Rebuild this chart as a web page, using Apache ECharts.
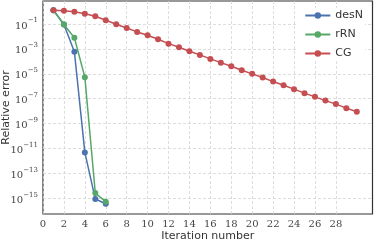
<!DOCTYPE html>
<html>
<head>
<meta charset="utf-8">
<script src="https://cdn.jsdelivr.net/npm/echarts@6/dist/echarts.min.js"></script>
<style>html,body{margin:0;padding:0;background:#fff}#c{width:374px;height:241px}</style>
</head>
<body>
<div id="c"></div>
<script>
// Data (relative error, log scale)
const desN_x = [1, 2, 3, 4, 5, 6];
const desN_y = [1.26, 9.1e-2, 6.0e-4, 4.9e-12, 8.9e-16, 3.7e-16];
const rRN_x = [1, 2, 3, 4, 5, 6];
const rRN_y = [1.26, 9.1e-2, 7.9e-3, 5.4e-6, 2.7e-15, 5.5e-16];
const CG_x = [1,2,3,4,5,6,7,8,9,10,11,12,13,14,15,16,17,18,19,20,21,22,23,24,25,26,27,28,29,30];
const CG_y = [1.26, 1.16, 0.97, 0.67, 0.42, 0.20, 9.5e-2, 4.8e-2, 2.3e-2, 1.24e-2,
  5.9e-3, 2.64e-3, 1.36e-3, 6.5e-4, 3.3e-4, 1.57e-4, 7.9e-5, 4.1e-5, 1.95e-5, 9.9e-6,
  5.0e-6, 2.38e-6, 1.22e-6, 5.9e-7, 2.8e-7, 1.42e-7, 7.1e-8, 3.7e-8, 1.76e-8, 8.9e-9];
const xTicks = [0,2,4,6,8,10,12,14,16,18,20,22,24,26,28];
const yTicks = [1e-15, 1e-13, 1e-11, 1e-9, 1e-7, 1e-5, 1e-3, 1e-1];

const pair = (xs, ys) => xs.map((x, i) => [x, ys[i]]);
const chart = echarts.init(document.getElementById('c'), null, {renderer: 'canvas'});
const grid = {color: '#d4d4d4', width: 0.8, type: [3, 2]};
const sup = v => {
  const e = Math.round(Math.log10(v));
  return '{b|10}{s|' + (e < 0 ? '\u2212' + (-e) : e) + '}';
};
const mk = (name, data, color) => ({
  name, type: 'line', data, symbol: 'circle', symbolSize: 6,
  lineStyle: {color, width: 1.5}, itemStyle: {color},
  animation: false
});
chart.setOption({
  animation: false,
  grid: {left: 43, right: 1.5, top: 1, bottom: 27, containLabel: false, outerBoundsMode: 'none',
         show: true, borderColor: '#333', borderWidth: 1.2, backgroundColor: 'transparent'},
  legend: {
    orient: 'vertical', right: 9, top: 8, padding: [2, 2, 2, 6],
    itemWidth: 25, itemHeight: 8, itemGap: 8, align: 'left',
    backgroundColor: '#fff',
    textStyle: {fontFamily: 'DejaVu Sans', fontSize: 11, color: '#333'},
    data: ['desN', 'rRN', 'CG']
  },
  xAxis: {
    type: 'value', min: 0, max: 31.5,
    name: 'Iteration number', nameLocation: 'middle', nameGap: 17, nameMoveOverlap: false,
    nameTextStyle: {fontFamily: 'DejaVu Sans', fontSize: 11, color: '#333'},
    axisLine: {show: false},
    axisTick: {show: false, customValues: xTicks},
    axisLabel: {customValues: xTicks, fontFamily: 'DejaVu Serif', fontSize: 10, color: '#444', margin: 5},
    splitLine: {show: true, lineStyle: grid}
  },
  yAxis: {
    type: 'log', min: Math.pow(10, -16.25), max: Math.pow(10, 0.843),
    name: 'Relative error', nameLocation: 'middle', nameGap: 31, nameRotate: 90, nameMoveOverlap: false,
    nameTextStyle: {fontFamily: 'DejaVu Sans', fontSize: 11, color: '#333'},
    axisLine: {show: false},
    axisTick: {show: false, customValues: yTicks},
    axisLabel: {
      customValues: yTicks, margin: 5, formatter: sup,
      rich: {
        b: {fontFamily: 'DejaVu Serif', fontSize: 10, color: '#444', padding: [4, 0, 0, 0]},
        s: {fontFamily: 'DejaVu Serif', fontSize: 7, color: '#444', verticalAlign: 'top', padding: [0, 0, 6, 0]}
      }
    },
    splitLine: {show: true, lineStyle: grid}
  },
  series: [
    mk('desN', pair(desN_x, desN_y), '#4c72b0'),
    mk('rRN', pair(rRN_x, rRN_y), '#55a868'),
    mk('CG', pair(CG_x, CG_y), '#c44e52')
  ]
});
</script>
</body>
</html>
